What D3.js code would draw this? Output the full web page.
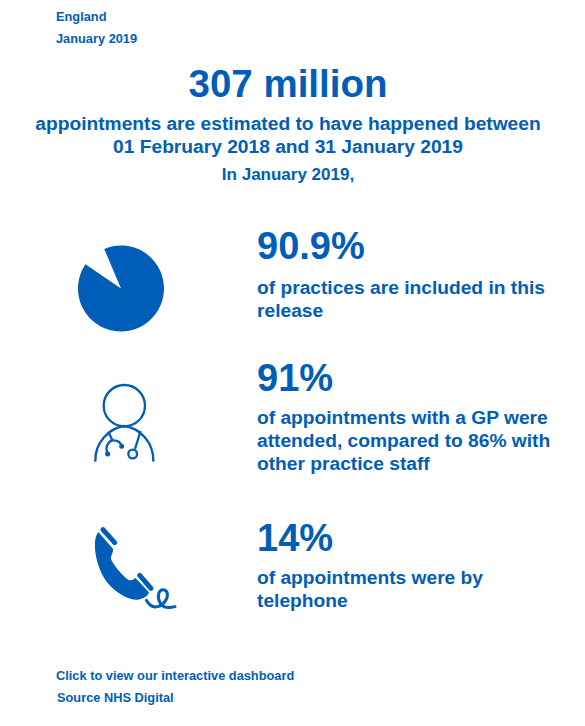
<!DOCTYPE html>
<html><head><meta charset="utf-8">
<script src="https://cdn.jsdelivr.net/npm/d3@7"></script>
<style>html,body{margin:0;padding:0;background:#fff}svg{display:block}text{font-family:"Liberation Sans",Arial,sans-serif;font-weight:700;fill:#005EB8}</style>
</head><body><div id="c"></div>
<script>
const headerLines = ["England", "January 2019"];
const headline = "307 million";
const introLines = ["appointments are estimated to have happened between", "01 February 2018 and 31 January 2019"];
const introNote = "In January 2019,";
const stats = ["90.9%", "91%", "14%"];
const statLines = [
  ["of practices are included in this", "release"],
  ["of appointments with a GP were", "attended, compared to 86% with", "other practice staff"],
  ["of appointments were by", "telephone"]
];
const footerLines = ["Click to view our interactive dashboard", "Source NHS Digital"];
const pieValues = [90.9, 9.1];

const blue = "#005EB8";
const svg = d3.select("#c").append("svg").attr("width",585).attr("height",726);
const label = (s,x,y,size,anchor="start") => svg.append("text").attr("x",x).attr("y",y)
  .attr("font-size",size).attr("text-anchor",anchor).text(s);

label(headerLines[0],56,21,12.8); label(headerLines[1],56,43,12.8);
label(headline,288,97,38.5,"middle");
label(introLines[0],288,129.5,19.2,"middle"); label(introLines[1],288,152.5,19.2,"middle");
label(introNote,288,179.5,17,"middle");

const statY=[259,391,551], lineY=[[294,317],[424,447,470],[584,607]];
stats.forEach((s,i)=>{
  label(s,257,statY[i],38);
  statLines[i].forEach((l,j)=>label(l,257,lineY[i][j],19.2));
});
label(footerLines[0],56,680,12.8); label(footerLines[1],57,702,12.8);

// pie
const start=-23*Math.PI/180;
const pie=d3.pie().sort(null).startAngle(start).endAngle(start+2*Math.PI)(pieValues);
const arc=d3.arc().innerRadius(0).outerRadius(43);
svg.append("g").attr("transform","translate(121,288.5)").selectAll("path").data(pie).join("path")
  .attr("d",arc).attr("fill",(d,i)=>i===0?blue:"none");

// doctor icon, drawn in 3x units
const doc=svg.append("g").attr("transform","translate(80,375) scale(0.3333)")
  .attr("fill","none").attr("stroke",blue).attr("stroke-width",7);
doc.append("circle").attr("cx",133).attr("cy",92).attr("r",62);
doc.append("path").attr("d","M46,260C44,205 85,160 133,153C182,160 222,205 220,260");
doc.append("path").attr("d","M85,170L97,196");
doc.append("path").attr("d","M83,237C72,210 90,196 100,196C112,196 122,203 125,213");
doc.append("path").attr("d","M182,168L165,222");
doc.append("circle").attr("cx",158).attr("cy",237).attr("r",13);
doc.append("circle").attr("cx",83).attr("cy",237).attr("r",4).attr("fill",blue);
doc.append("circle").attr("cx",125).attr("cy",214).attr("r",4).attr("fill",blue);

// telephone icon, drawn in 3x units
const ph=svg.append("g").attr("transform","translate(85,520) scale(0.3333)");
ph.append("path").attr("fill",blue).attr("d","M40,36L82,84C90,92 76,105 78,118C86,135 110,166 130,180C140,182 147,178 151,173L192,217C190,226 178,237 158,239C132,241 93,219 68,189C43,159 27,105 30,66C31,52 35,43 40,36Z");
ph.append("path").attr("fill","none").attr("stroke",blue).attr("stroke-width",15).attr("stroke-linecap","round").attr("d","M54,29L89,68");
ph.append("path").attr("fill","none").attr("stroke",blue).attr("stroke-width",15).attr("stroke-linecap","round").attr("d","M164,166L198,205");
ph.append("path").attr("fill","none").attr("stroke",blue).attr("stroke-width",9).attr("stroke-linecap","round")
  .attr("d","M184,241C192,255 205,263 218,260C235,256 250,236 247,220C244,207 228,205 222,218C216,235 225,258 243,262C252,263 262,262 270,260");
</script></body></html>
